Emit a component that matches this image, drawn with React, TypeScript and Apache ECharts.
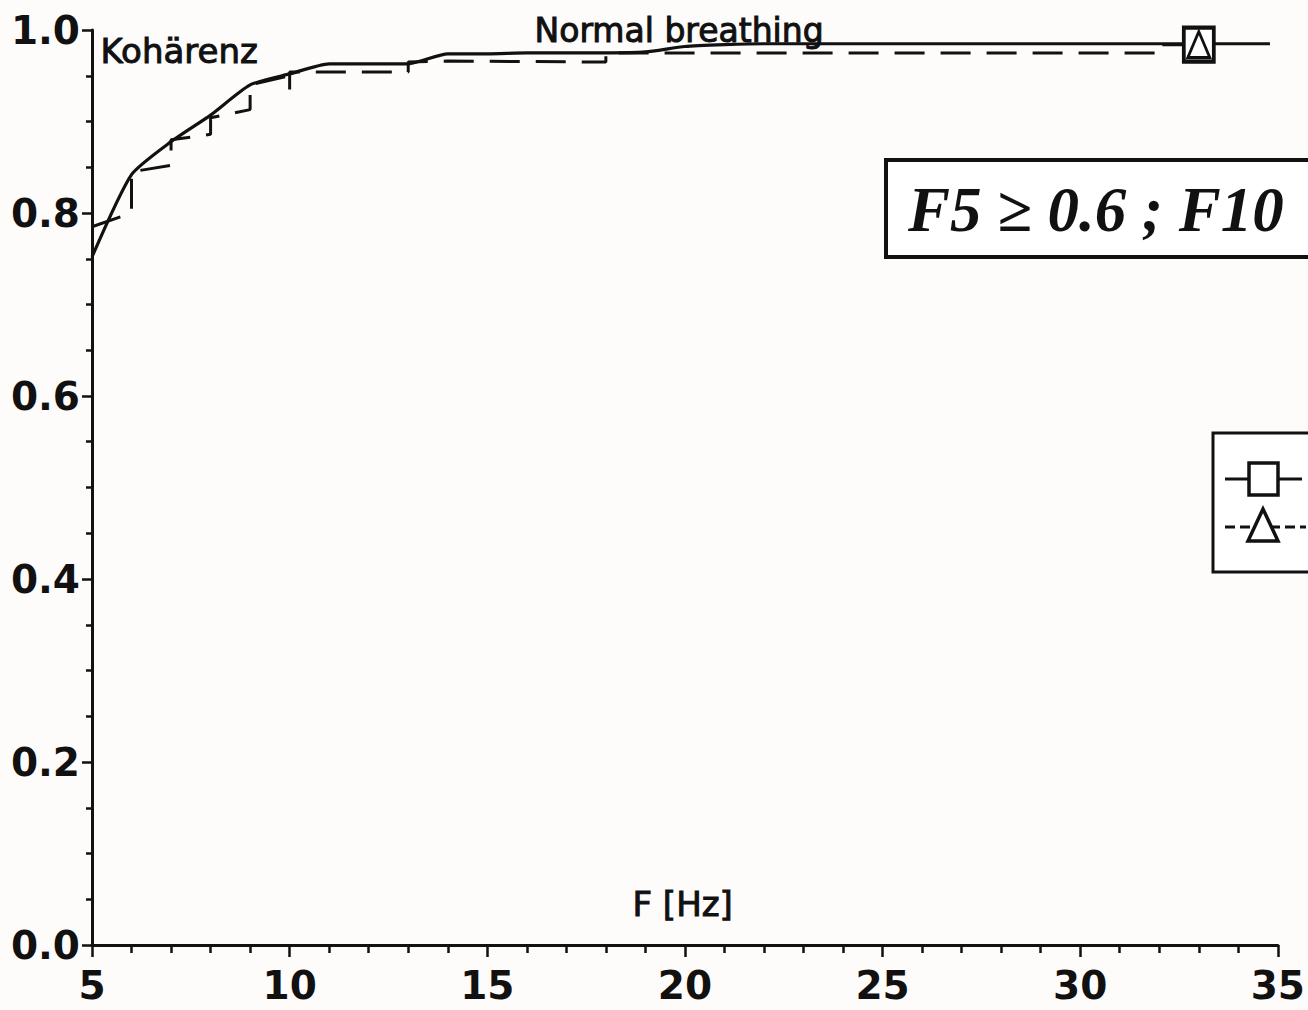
import React, { useEffect, useRef } from "react";
import * as echarts from "echarts";

// Frequencies (Hz) and coherence values
const solidX = [5, 6, 7, 8, 9, 10, 11, 12, 13, 14, 15, 16, 17, 18, 19, 20, 21, 22, 23, 24, 25, 26, 27, 28, 29, 30, 31, 32, 33, 34, 34.8];
const solidY = [0.752, 0.842, 0.878, 0.907, 0.94, 0.952, 0.963, 0.963, 0.963, 0.974, 0.974, 0.975, 0.975, 0.975, 0.976, 0.982, 0.984, 0.985, 0.985, 0.985, 0.985, 0.985, 0.985, 0.985, 0.985, 0.985, 0.985, 0.985, 0.985, 0.985, 0.985];

const dashX = [5, 6, 6, 7, 7, 8, 8, 9, 9, 10, 10, 10, 13, 13, 14, 18, 18, 32, 32, 33];
const dashY = [0.785, 0.8, 0.845, 0.852, 0.88, 0.886, 0.904, 0.913, 0.94, 0.95, 0.935, 0.954, 0.954, 0.965, 0.966, 0.965, 0.975, 0.975, 0.984, 0.984];

const markerSquare = [[33, 0.984]];
const markerTriangle = [[33, 0.984]];

const xTicks = { min: 5, max: 35, interval: 5 };
const yTicks = { min: 0, max: 1, interval: 0.2 };

const titleText = "Normal breathing";
const yName = "Kohärenz";
const xName = "F [Hz]";
const boxText = "F5 ≥ 0.6 ; F10";

const INK = "#111111";

export default function App() {
  const ref = useRef<HTMLDivElement>(null);

  useEffect(() => {
    if (!ref.current) return;
    const chart = echarts.init(ref.current, undefined, { renderer: "svg" });

    const solid = solidX.map((x, i) => [x, solidY[i]]);
    const dashed = dashX.map((x, i) => [x, dashY[i]]);

    const labelFont = "DejaVu Sans";

    chart.setOption({
      animation: false,
      backgroundColor: "#fefcfb",
      grid: { left: 92, right: 28, top: 30, bottom: 65, containLabel: false },
      xAxis: {
        type: "value",
        min: xTicks.min,
        max: xTicks.max,
        interval: xTicks.interval,
        axisLine: { show: true, lineStyle: { color: INK, width: 3 } },
        axisTick: { show: true, inside: false, length: 12, lineStyle: { color: INK, width: 2.5 } },
        minorTick: { show: true, splitNumber: 5, length: 8, lineStyle: { color: INK, width: 2.5 } },
        splitLine: { show: false },
        axisLabel: {
          color: INK,
          fontFamily: labelFont,
          fontWeight: "bold",
          fontSize: 39,
          margin: 21,
        },
      },
      yAxis: {
        type: "value",
        min: yTicks.min,
        max: yTicks.max,
        interval: yTicks.interval,
        axisLine: { show: true, lineStyle: { color: INK, width: 3 } },
        axisTick: { show: true, inside: false, length: 10, lineStyle: { color: INK, width: 2.5 } },
        minorTick: { show: true, splitNumber: 4, length: 6, lineStyle: { color: INK, width: 2.5 } },
        splitLine: { show: false },
        axisLabel: {
          color: INK,
          fontFamily: labelFont,
          fontWeight: "bold",
          fontSize: 39,
          margin: 12,
          formatter: (v: number) => v.toFixed(1),
        },
      },
      series: [
        {
          type: "line",
          data: solid,
          symbol: "none",
          smooth: 0.2,
          lineStyle: { color: INK, width: 3.2 },
          z: 3,
        },
        {
          type: "line",
          data: dashed,
          symbol: "none",
          lineStyle: { color: INK, width: 3, type: [30, 16] },
          z: 3,
        },
        {
          type: "scatter",
          data: markerSquare,
          symbol: "rect",
          symbolSize: [30, 34],
          itemStyle: { color: "#ffffff", borderColor: INK, borderWidth: 4, opacity: 1 },
          z: 4,
        },
        {
          type: "scatter",
          data: markerTriangle,
          symbol: "triangle",
          symbolSize: [22, 26],
          itemStyle: { color: "#ffffff", borderColor: INK, borderWidth: 3, opacity: 1 },
          z: 5,
        },
      ],
      graphic: [
        {
          type: "text",
          left: 100,
          top: 33,
          style: { text: yName, fill: INK, stroke: INK, lineWidth: 1, font: `34px "${labelFont}"` },
        },
        {
          type: "text",
          left: 534,
          top: 13,
          style: { text: titleText, fill: INK, stroke: INK, lineWidth: 1, font: `33px "${labelFont}"` },
        },
        {
          type: "text",
          left: 632,
          top: 886,
          style: { text: xName, fill: INK, stroke: INK, lineWidth: 1, font: `34px "${labelFont}"` },
        },
        {
          type: "rect",
          shape: { x: 886, y: 160, width: 440, height: 97 },
          style: { fill: "#ffffff", stroke: INK, lineWidth: 4 },
          z: 10,
        },
        {
          type: "text",
          x: 908,
          y: 210,
          style: {
            text: boxText,
            fill: INK,
            font: `italic bold 63px "Liberation Serif"`,
            verticalAlign: "middle",
            align: "left",
          },
          z: 11,
        },
        {
          type: "group",
          z: 10,
          children: [
            {
              type: "rect",
              shape: { x: 1213, y: 433, width: 120, height: 139 },
              style: { fill: "#ffffff", stroke: INK, lineWidth: 3 },
            },
            {
              type: "line",
              shape: { x1: 1225, y1: 479, x2: 1302, y2: 479 },
              style: { stroke: INK, lineWidth: 3 },
            },
            {
              type: "rect",
              shape: { x: 1249, y: 463, width: 29, height: 32 },
              style: { fill: "#ffffff", stroke: INK, lineWidth: 3.5 },
            },
            {
              type: "line",
              shape: { x1: 1225, y1: 527, x2: 1306, y2: 527 },
              style: { stroke: INK, lineWidth: 3, lineDash: [10, 5] },
            },
            {
              type: "polygon",
              shape: { points: [[1263, 509], [1248, 541], [1278, 541]] },
              style: { fill: "#ffffff", stroke: INK, lineWidth: 3.5 },
            },
          ],
        },
      ],
    });

    return () => chart.dispose();
  }, []);

  return (
    <div
      ref={ref}
      style={{ position: "fixed", left: 0, top: 0, width: 1308, height: 1010 }}
    />
  );
}
